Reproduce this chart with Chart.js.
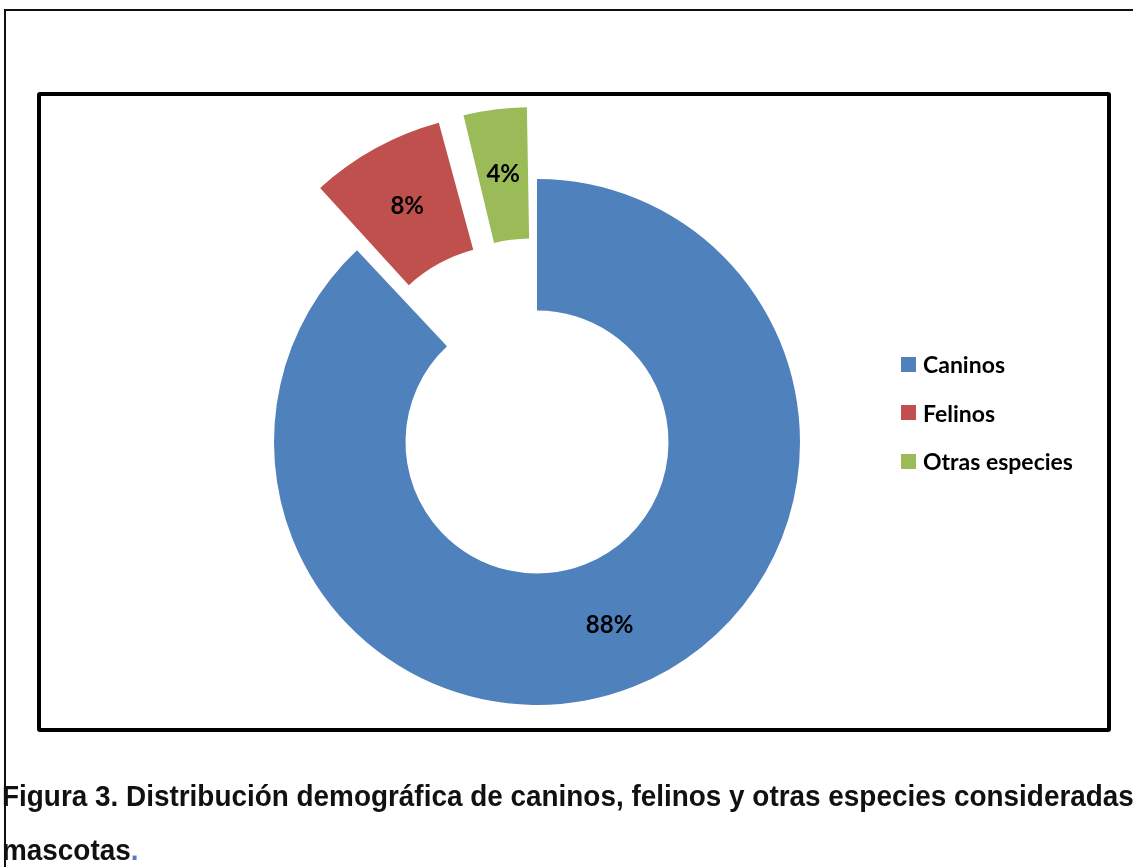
<!DOCTYPE html>
<html>
<head>
<meta charset="utf-8">
<script src="https://cdn.jsdelivr.net/npm/chart.js@4.4.0/dist/chart.umd.min.js"></script>
<style>
  html, body { margin: 0; padding: 0; background: #fff; }
  body { width: 1133px; height: 867px; overflow: hidden; position: relative; }
  #frame { position: absolute; left: 4px; top: 9px; width: 1200px; height: 900px;
           border-left: 2px solid #111; border-top: 2px solid #111; }
  #box { position: absolute; left: 37px; top: 92px; width: 1066px; height: 632px;
         border: 4px solid #000; border-radius: 3px; }
  #chart { position: absolute; left: 0; top: 0; width: 1133px; height: 867px; }
  #legend { position: absolute; left: 901px; top: 340px; font: bold 23px Lato, sans-serif; color: #000; }
  #legend .item { height: 48.5px; display: flex; align-items: center; }
  #legend .swatch { width: 15px; height: 15px; margin-right: 7px; }
  .caption { position: absolute; left: 2px; font-family: "Liberation Sans", Arial, sans-serif;
             font-weight: bold; font-size: 30px; line-height: 30px; white-space: nowrap; color: #111;
             transform: scaleX(0.93); transform-origin: 0 0; }
</style>
</head>
<body>
<div id="frame"></div>
<div id="box"></div>
<canvas id="chart" width="1133" height="867"></canvas>
<div id="legend"></div>
<div class="caption" style="top:781px">Figura 3. Distribución demográfica de caninos, felinos y otras especies consideradas</div>
<div class="caption" style="top:835px">mascotas<span style="color:#4f81bd">.</span></div>
<script>
const categories = ['Caninos', 'Felinos', 'Otras especies'];
const percentages = [88, 8, 4];
const sliceColors = ['#4f81bd', '#c0504d', '#9bbb59'];

// percentage text in the middle of each slice (follows the slice offset)
const sliceLabels = {
  id: 'sliceLabels',
  afterDatasetsDraw(chart) {
    const ctx = chart.ctx;
    const meta = chart.getDatasetMeta(0);
    ctx.save();
    ctx.font = 'bold 24px Lato';
    ctx.fillStyle = '#000';
    ctx.textAlign = 'center';
    ctx.textBaseline = 'middle';
    meta.data.forEach(function(arc, i) {
      const p = arc.getProps(['x', 'y', 'startAngle', 'endAngle', 'innerRadius', 'outerRadius', 'circumference']);
      const off = (arc.options.offset || 0) / 4;
      const fix = 1 - Math.sin(Math.min(Math.PI, p.circumference));
      const mid = (p.startAngle + p.endAngle) / 2;
      const r = (p.innerRadius + p.outerRadius) / 2 + off + off * fix;
      ctx.fillText(percentages[i] + '%', p.x + Math.cos(mid) * r, p.y + Math.sin(mid) * r);
    });
    ctx.restore();
  }
};

function draw() {
  const ctx = document.getElementById('chart').getContext('2d');
  const chart = new Chart(ctx, {
    type: 'doughnut',
    data: {
      labels: categories,
      datasets: [{
        data: percentages,
        backgroundColor: sliceColors,
        borderWidth: 0,
        offset: [0, 190, 165],
        hoverOffset: 0
      }]
    },
    options: {
      responsive: false,
      animation: false,
      events: [],
      cutout: '50%',
      layout: { padding: { left: 179, right: 238, top: 84, bottom: 67 } },
      plugins: {
        legend: { display: false },
        tooltip: { enabled: false }
      }
    },
    plugins: [sliceLabels]
  });

  // legend built from the chart's own labels and colours
  const legend = document.getElementById('legend');
  chart.data.labels.forEach(function(label, i) {
    const item = document.createElement('div');
    item.className = 'item';
    const sw = document.createElement('span');
    sw.className = 'swatch';
    sw.style.background = chart.data.datasets[0].backgroundColor[i];
    const txt = document.createElement('span');
    txt.textContent = label;
    item.appendChild(sw);
    item.appendChild(txt);
    legend.appendChild(item);
  });
}

document.fonts.load('bold 24px Lato').then(draw, draw);
</script>
</body>
</html>
